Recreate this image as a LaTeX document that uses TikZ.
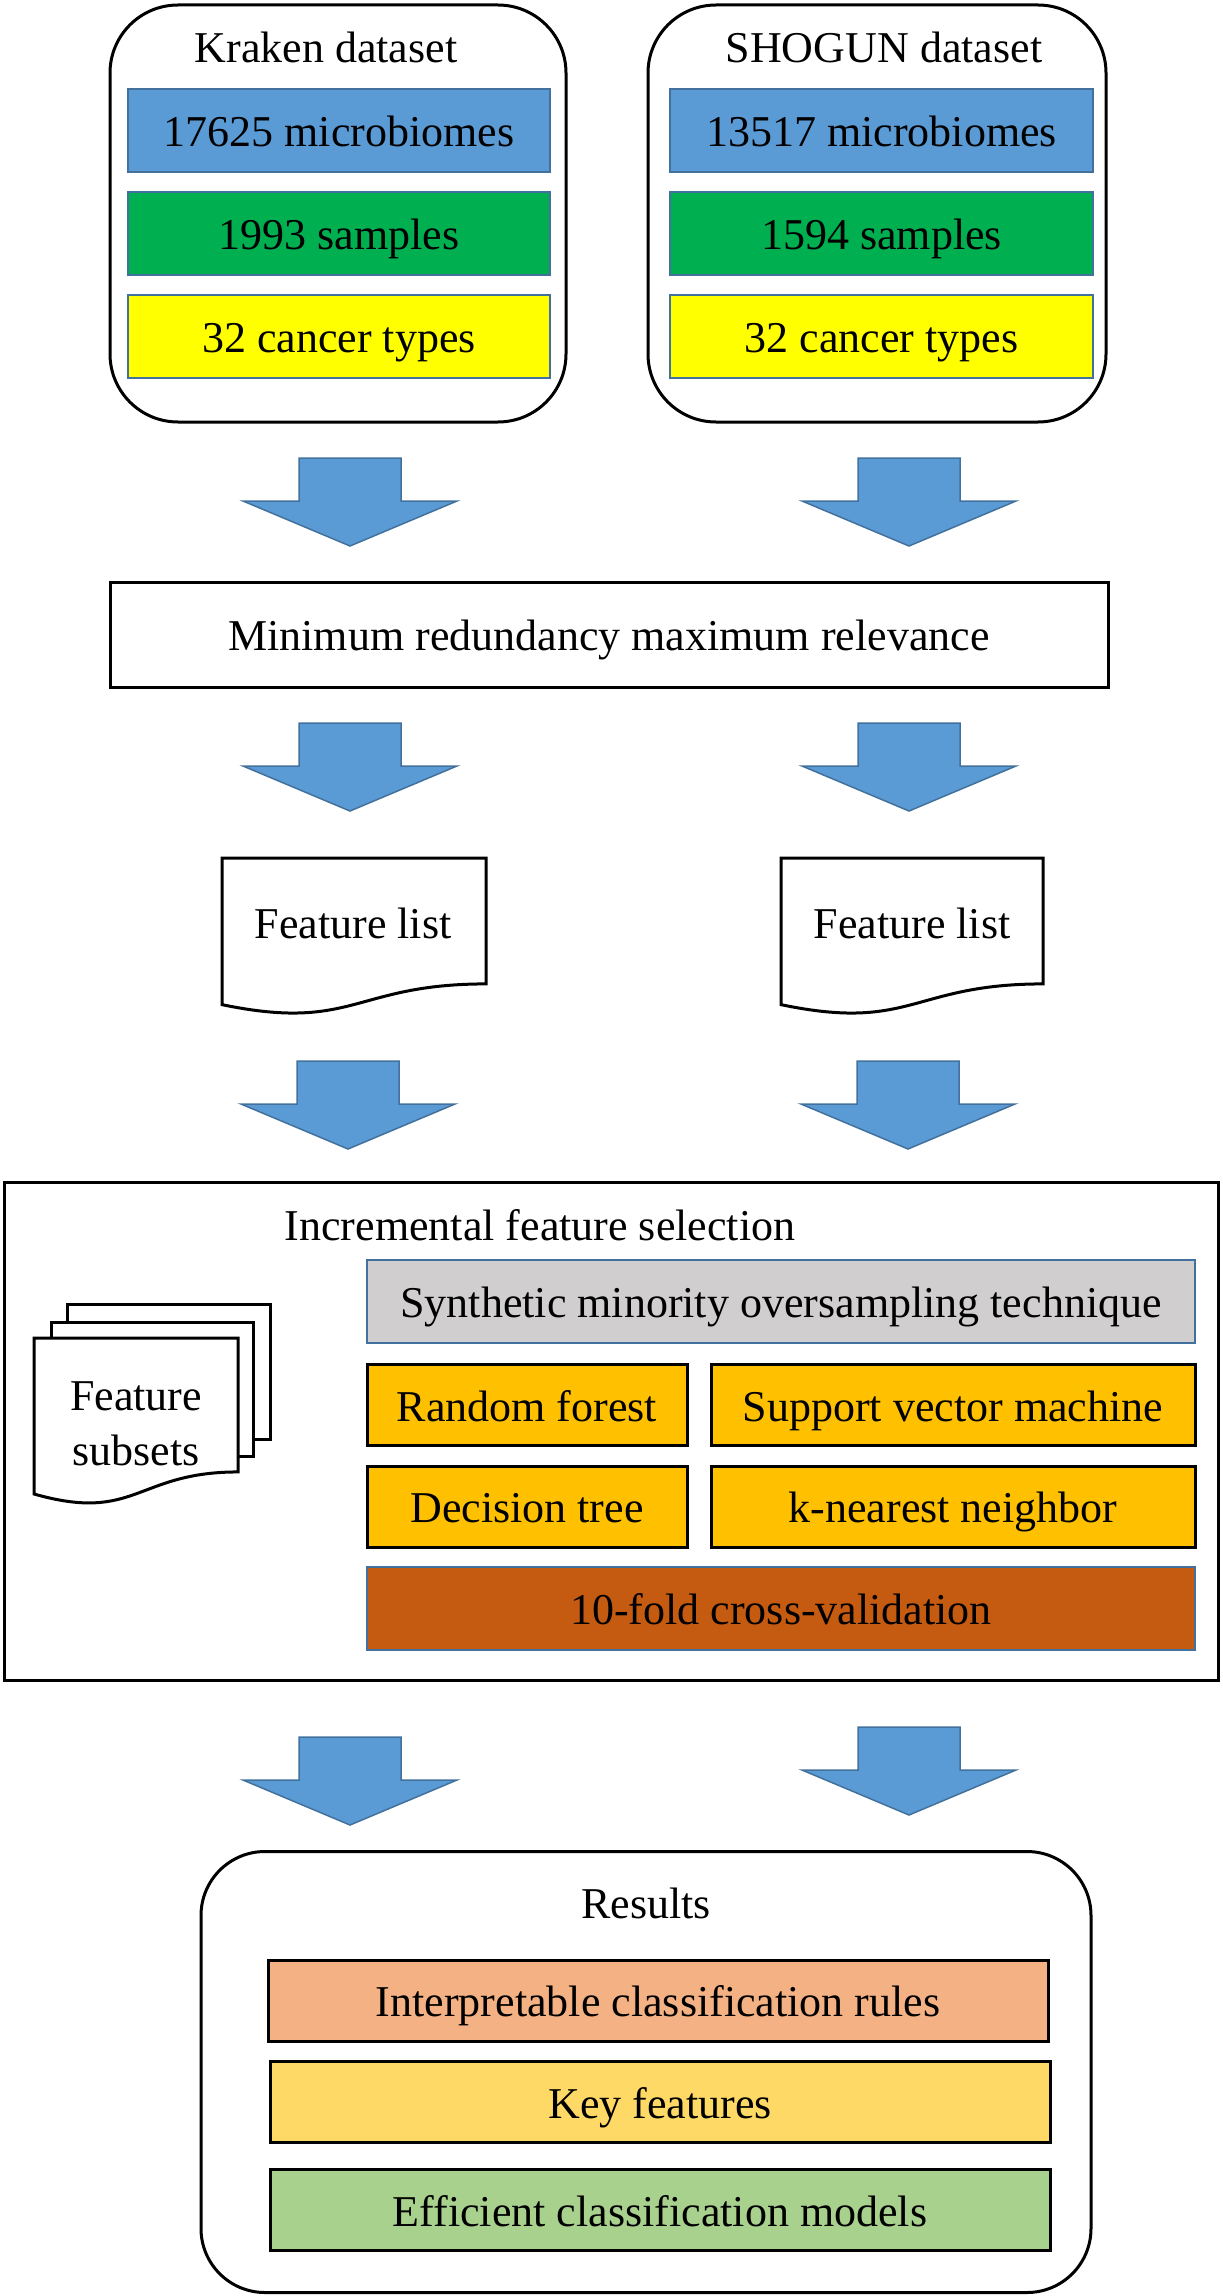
\documentclass[tikz,border=0pt]{standalone}
\usepackage{fontspec}
\setmainfont{Liberation Serif}

\definecolor{pfeilblau}{HTML}{5B9BD5}
\definecolor{randblau}{HTML}{41719C}
\definecolor{mikblau}{HTML}{5B9BD5}
\definecolor{probgruen}{HTML}{00B050}
\definecolor{typgelb}{HTML}{FFFF00}
\definecolor{smotegrau}{HTML}{D0CECE}
\definecolor{modellorange}{HTML}{FFC000}
\definecolor{cvrost}{HTML}{C55A11}
\definecolor{regellachs}{HTML}{F4B183}
\definecolor{merkmalgold}{HTML}{FFD966}
\definecolor{modellgruen}{HTML}{A9D18E}

% Dokument-Symbol: x, y (oben links), Breite, Hoehe
\newcommand{\dokform}[4]{%
  \filldraw[doklinie] (#1,#2) -- ({#1+#3},#2) -- ({#1+#3},{#2+0.802*#4})
    .. controls ({#1+0.5*#3},{#2+0.802*#4}) and ({#1+0.5*#3},{#2+1.108*#4}) .. (#1,{#2+0.934*#4}) -- cycle;}

\begin{document}
\begin{tikzpicture}[x=0.5pt, y=-0.5pt,
    every node/.style={font=\fontsize{22}{27.5}\selectfont, inner sep=0pt},
    rahmen/.style={draw=black, line width=1.5pt, rounded corners=34pt, fill=white},
    feld/.style={draw=randblau, line width=1pt, minimum height=41.5pt, text height=16pt, text depth=0pt},
    kfeld/.style={draw=black, line width=1.5pt, minimum height=40.5pt, text height=16pt, text depth=0pt},
    doklinie/.style={draw=black, line width=1.5pt, fill=white},
    blockpfeil/.pic={
      \filldraw[fill=pfeilblau, draw=randblau, line width=0.75pt]
        (-51,0) -- (51,0) -- (51,43) -- (107,43) -- (0,88) -- (-107,43) -- (-51,43) -- cycle;
    }]
  \useasboundingbox (0,0) rectangle (1222,2296);

  % Datensaetze
  \node[rahmen, minimum width=228pt, minimum height=208.5pt] (kraken) at (338,213.5) {};
  \node[anchor=base] (krakenTitel) at (326,63) {Kraken dataset};
  \node[feld, fill=mikblau, minimum width=211pt] (krakenMik) at (339,130.5) {17625 microbiomes};
  \node[feld, fill=probgruen, minimum width=211pt] (krakenProb) at (339,233) {1993 samples};
  \node[feld, fill=typgelb, minimum width=211pt] (krakenTyp) at (339,336) {32 cancer types};

  \node[rahmen, minimum width=229pt, minimum height=208.5pt] (shogun) at (877,213.5) {};
  \node[anchor=base] (shogunTitel) at (884,63) {SHOGUN dataset};
  \node[feld, fill=mikblau, minimum width=211.5pt] (shogunMik) at (881.5,130.5) {13517 microbiomes};
  \node[feld, fill=probgruen, minimum width=211.5pt] (shogunProb) at (881.5,233) {1594 samples};
  \node[feld, fill=typgelb, minimum width=211.5pt] (shogunTyp) at (881.5,336) {32 cancer types};

  \pic (pfeilA1) at (350,458) {blockpfeil};
  \pic (pfeilB1) at (909,458) {blockpfeil};

  % mRMR
  \node[draw=black, line width=1.5pt, minimum width=499pt, minimum height=52.5pt,
        text height=16pt, text depth=0pt] (mrmr) at (609,634.5) {Minimum redundancy maximum relevance};

  \pic (pfeilA2) at (350,723) {blockpfeil};
  \pic (pfeilB2) at (909,723) {blockpfeil};

  % Merkmalslisten
  \dokform{222}{858}{264}{157}
  \node[anchor=base] (listeA) at (353,938) {Feature list};
  \dokform{781}{858}{262}{157}
  \node[anchor=base] (listeB) at (912,938) {Feature list};

  \pic (pfeilA3) at (348,1061) {blockpfeil};
  \pic (pfeilB3) at (908,1061) {blockpfeil};

  % IFS
  \node[draw=black, line width=1.5pt, minimum width=607pt, minimum height=249pt] (ifs) at (611,1431) {};
  \node[anchor=base] (ifsTitel) at (540,1240) {Incremental feature selection};
  \filldraw[doklinie] (67,1304) rectangle (270,1439);
  \filldraw[doklinie] (51,1322) rectangle (253,1456);
  \dokform{34}{1338}{204}{167}
  \node[align=center] (teilmengen) at (136,1424) {Feature\\subsets};
  \node[feld, fill=smotegrau, minimum width=414pt] (smote) at (781,1301.5) {Synthetic minority oversampling technique};
  \node[kfeld, fill=modellorange, minimum width=160pt] (rf) at (527,1405) {Random forest};
  \node[kfeld, fill=modellorange, minimum width=242pt] (svm) at (953,1405) {Support vector machine};
  \node[kfeld, fill=modellorange, minimum width=160pt] (dt) at (527,1506.5) {Decision tree};
  \node[kfeld, fill=modellorange, minimum width=242pt] (knn) at (953,1506.5) {k-nearest neighbor};
  \node[feld, fill=cvrost, minimum width=414pt] (cv) at (781,1608) {10-fold cross-validation};

  \pic (pfeilA4) at (350,1737) {blockpfeil};
  \pic (pfeilB4) at (909,1727) {blockpfeil};

  % Ergebnisse
  \node[rahmen, rounded corners=32pt, minimum width=445pt, minimum height=220.5pt] (ergebnis) at (646,2072) {};
  \node[anchor=base] (ergebnisTitel) at (646,1918) {Results};
  \node[kfeld, fill=regellachs, minimum width=390pt] (regeln) at (658,2000.5) {Interpretable classification rules};
  \node[kfeld, fill=merkmalgold, minimum width=390pt] (merkmale) at (660,2102) {Key features};
  \node[kfeld, fill=modellgruen, minimum width=390pt] (modelle) at (660,2210) {Efficient classification models};
\end{tikzpicture}
\end{document}
